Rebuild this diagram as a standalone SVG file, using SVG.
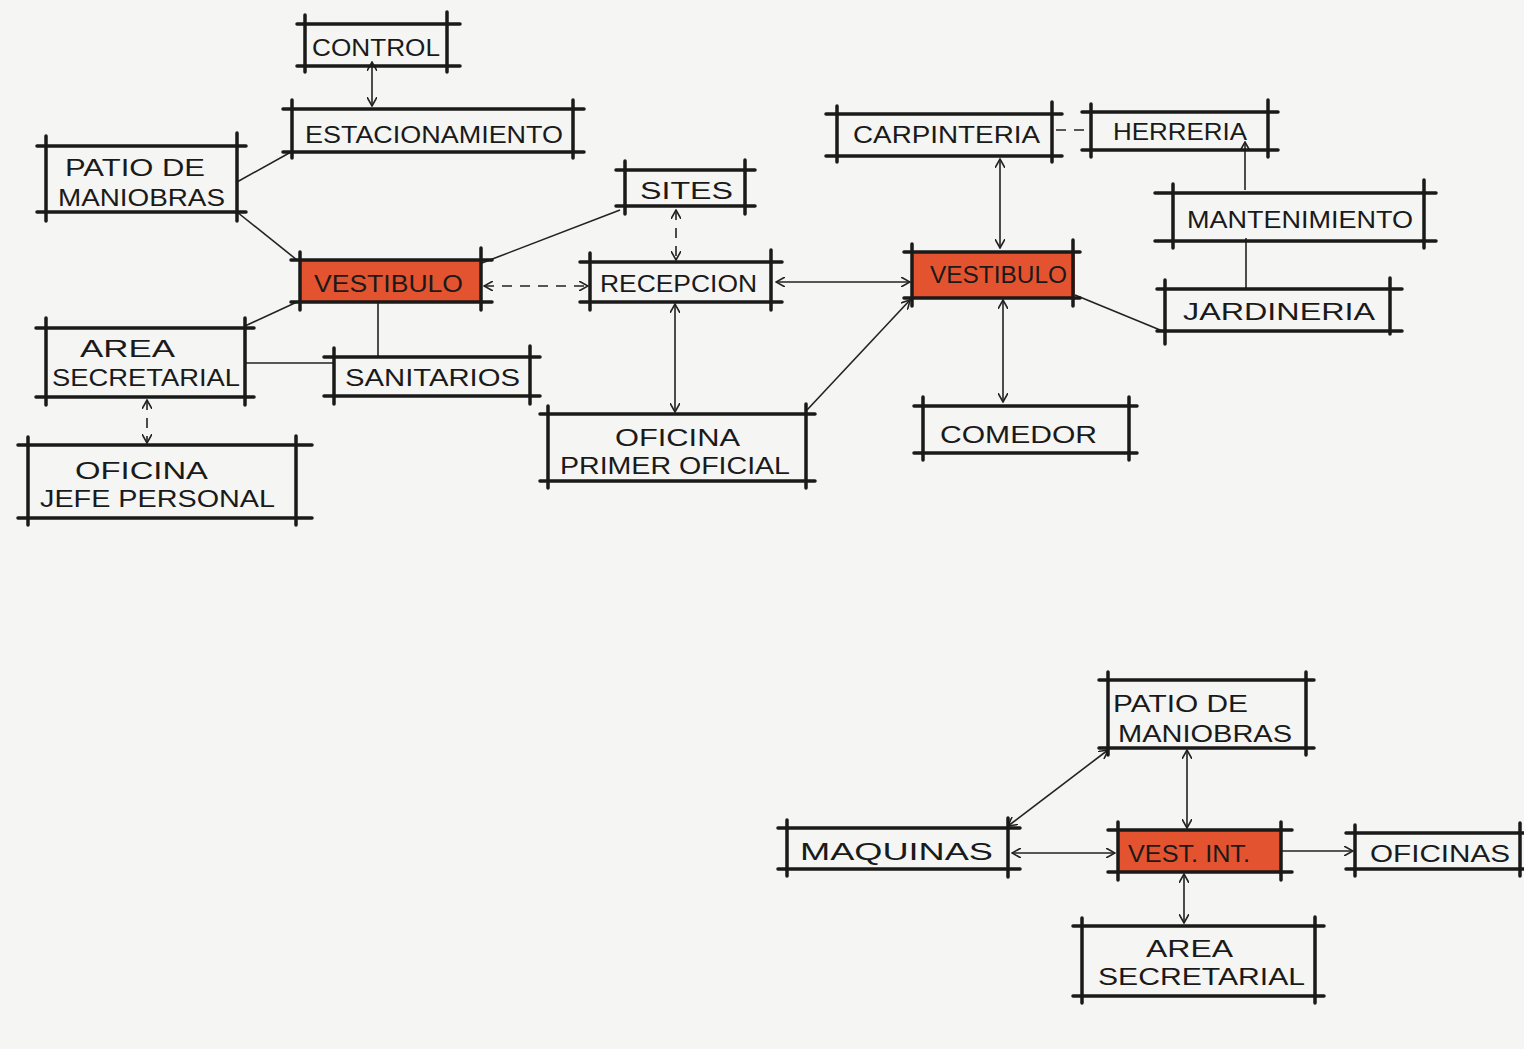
<svg xmlns="http://www.w3.org/2000/svg" width="1524" height="1049" viewBox="0 0 1524 1049">
<style>
.bx{fill:none;stroke:#1a1a1a;stroke-width:3.5;stroke-linecap:round}
.red{fill:#e4532f;stroke:none}
.t{font-family:"Liberation Sans",Arial,sans-serif;font-size:24px;fill:#1a1a1a}
.c{fill:none;stroke:#222;stroke-width:1.6}
.d{stroke-dasharray:10 8}
</style>
<defs>
<marker id="a" viewBox="0 0 10 10" refX="9" refY="5" markerWidth="10" markerHeight="10" markerUnits="userSpaceOnUse" orient="auto-start-reverse">
<path d="M0,0 L9,5 L0,10" fill="none" stroke="#222" stroke-width="1.6"/>
</marker>
</defs>
<rect width="1524" height="1049" fill="#f5f5f3"/>

<g id="connectors">
<path class="c" d="M372,62 V106" marker-start="url(#a)" marker-end="url(#a)"/>
<path class="c" d="M291,152 L237,182"/>
<path class="c" d="M237,212 L297,260"/>
<path class="c" d="M297,302 L245,326"/>
<path class="c" d="M378,302 V356"/>
<path class="c" d="M245,363 H333"/>
<path class="c d" d="M147,400 V443" marker-start="url(#a)" marker-end="url(#a)"/>
<path class="c" d="M620,210 L482,263"/>
<path class="c d" d="M484,286 H588" marker-start="url(#a)" marker-end="url(#a)"/>
<path class="c d" d="M676,210 V260" marker-start="url(#a)" marker-end="url(#a)"/>
<path class="c" d="M675,304 V412" marker-start="url(#a)" marker-end="url(#a)"/>
<path class="c" d="M776,282 H910" marker-start="url(#a)" marker-end="url(#a)"/>
<path class="c" d="M807,410 L910,300" marker-end="url(#a)"/>
<path class="c" d="M1000,159 V248" marker-start="url(#a)" marker-end="url(#a)"/>
<path class="c d" d="M1056,130 H1090"/>
<path class="c" d="M1245,190 V142" marker-end="url(#a)"/>
<path class="c" d="M1246,238 V288"/>
<path class="c" d="M1075,295 L1165,332"/>
<path class="c" d="M1003,300 V402" marker-start="url(#a)" marker-end="url(#a)"/>
<path class="c" d="M1008,826 L1108,750" marker-start="url(#a)" marker-end="url(#a)"/>
<path class="c" d="M1187,750 V828" marker-start="url(#a)" marker-end="url(#a)"/>
<path class="c" d="M1012,853 H1115" marker-start="url(#a)" marker-end="url(#a)"/>
<path class="c" d="M1281,851 H1353" marker-end="url(#a)"/>
<path class="c" d="M1184,874 V923" marker-start="url(#a)" marker-end="url(#a)"/>
</g>

<g id="control">
<path class="bx" d="M297,24 H460 M297,66 H460 M305,15 V72 M447,12 V72"/>
<text class="t" x="312" y="56" textLength="128" lengthAdjust="spacingAndGlyphs" font-size="28">CONTROL</text>
</g>
<g id="estacionamiento">
<path class="bx" d="M283,109 H584 M283,152 H584 M292,100 V158 M573,100 V158"/>
<text class="t" x="305" y="143" textLength="258" lengthAdjust="spacingAndGlyphs">ESTACIONAMIENTO</text>
</g>
<g id="patio1">
<path class="bx" d="M37,146 H246 M37,212 H246 M46,136 V221 M237,133 V221"/>
<text class="t" x="65" y="176" textLength="140" lengthAdjust="spacingAndGlyphs">PATIO DE</text>
<text class="t" x="58" y="206" textLength="167" lengthAdjust="spacingAndGlyphs">MANIOBRAS</text>
</g>
<g id="vestibulo1">
<rect class="red" x="300" y="260" width="181" height="41"/>
<path class="bx" d="M291,260 H492 M291,302 H492 M300,252 V310 M481,248 V310"/>
<text class="t" x="314" y="292" textLength="149" lengthAdjust="spacingAndGlyphs">VESTIBULO</text>
</g>
<g id="sites">
<path class="bx" d="M616,170 H755 M616,206 H755 M625,161 V214 M745,160 V214"/>
<text class="t" x="640" y="199" textLength="93" lengthAdjust="spacingAndGlyphs">SITES</text>
</g>
<g id="recepcion">
<path class="bx" d="M580,262 H782 M580,302 H782 M590,253 V310 M771,250 V310"/>
<text class="t" x="600" y="292" textLength="157" lengthAdjust="spacingAndGlyphs">RECEPCION</text>
</g>
<g id="areasec1">
<path class="bx" d="M36,328 H254 M36,397 H254 M46,318 V405 M245,318 V405"/>
<text class="t" x="80" y="357" textLength="95" lengthAdjust="spacingAndGlyphs">AREA</text>
<text class="t" x="52" y="386" textLength="188" lengthAdjust="spacingAndGlyphs">SECRETARIAL</text>
</g>
<g id="sanitarios">
<path class="bx" d="M324,357 H540 M324,396 H540 M334,348 V404 M530,346 V404"/>
<text class="t" x="345" y="386" textLength="175" lengthAdjust="spacingAndGlyphs">SANITARIOS</text>
</g>
<g id="jefe">
<path class="bx" d="M18,445 H312 M18,518 H312 M28,437 V525 M296,436 V525"/>
<text class="t" x="75" y="479" textLength="133" lengthAdjust="spacingAndGlyphs">OFICINA</text>
<text class="t" x="40" y="507" textLength="235" lengthAdjust="spacingAndGlyphs">JEFE PERSONAL</text>
</g>
<g id="primeroficial">
<path class="bx" d="M540,414 H815 M540,481 H815 M548,406 V488 M806,404 V488"/>
<text class="t" x="615" y="446" textLength="125" lengthAdjust="spacingAndGlyphs">OFICINA</text>
<text class="t" x="560" y="474" textLength="230" lengthAdjust="spacingAndGlyphs">PRIMER OFICIAL</text>
</g>
<g id="carpinteria">
<path class="bx" d="M826,114 H1062 M826,156 H1062 M837,106 V162 M1052,102 V162"/>
<text class="t" x="853" y="143" textLength="187" lengthAdjust="spacingAndGlyphs">CARPINTERIA</text>
</g>
<g id="herreria">
<path class="bx" d="M1082,112 H1278 M1082,150 H1278 M1091,104 V157 M1268,100 V157"/>
<text class="t" x="1113" y="140" textLength="134" lengthAdjust="spacingAndGlyphs">HERRERIA</text>
</g>
<g id="mantenimiento">
<path class="bx" d="M1155,193 H1436 M1155,241 H1436 M1173,184 V248 M1424,180 V248"/>
<text class="t" x="1187" y="228" textLength="226" lengthAdjust="spacingAndGlyphs">MANTENIMIENTO</text>
</g>
<g id="vestibulo2">
<rect class="red" x="912" y="252" width="163" height="45"/>
<path class="bx" d="M904,252 H1080 M904,298 H1080 M912,244 V306 M1073,240 V306"/>
<text class="t" x="930" y="283" textLength="137" lengthAdjust="spacingAndGlyphs">VESTIBULO</text>
</g>
<g id="jardineria">
<path class="bx" d="M1157,289 H1402 M1157,331 H1402 M1165,280 V344 M1390,278 V334"/>
<text class="t" x="1183" y="320" textLength="192" lengthAdjust="spacingAndGlyphs">JARDINERIA</text>
</g>
<g id="comedor">
<path class="bx" d="M914,406 H1137 M914,453 H1137 M923,397 V460 M1129,397 V460"/>
<text class="t" x="940" y="443" textLength="157" lengthAdjust="spacingAndGlyphs">COMEDOR</text>
</g>
<g id="patio2">
<path class="bx" d="M1099,680 H1314 M1099,748 H1314 M1108,672 V755 M1306,672 V755"/>
<text class="t" x="1113" y="712" textLength="135" lengthAdjust="spacingAndGlyphs">PATIO DE</text>
<text class="t" x="1118" y="742" textLength="174" lengthAdjust="spacingAndGlyphs">MANIOBRAS</text>
</g>
<g id="maquinas">
<path class="bx" d="M778,828 H1020 M778,869 H1020 M787,820 V876 M1008,818 V877"/>
<text class="t" x="800" y="860" textLength="193" lengthAdjust="spacingAndGlyphs">MAQUINAS</text>
</g>
<g id="vestint">
<rect class="red" x="1118" y="830" width="163" height="41"/>
<path class="bx" d="M1108,830 H1292 M1108,872 H1292 M1118,822 V880 M1281,822 V880"/>
<text class="t" x="1128" y="862" textLength="122" lengthAdjust="spacingAndGlyphs">VEST. INT.</text>
</g>
<g id="oficinas">
<path class="bx" d="M1346,833 H1524 M1346,869 H1524 M1355,825 V876 M1520,823 V876"/>
<text class="t" x="1370" y="862" textLength="140" lengthAdjust="spacingAndGlyphs">OFICINAS</text>
</g>
<g id="areasec2">
<path class="bx" d="M1073,926 H1324 M1073,996 H1324 M1082,918 V1003 M1315,917 V1003"/>
<text class="t" x="1146" y="957" textLength="87" lengthAdjust="spacingAndGlyphs">AREA</text>
<text class="t" x="1098" y="985" textLength="207" lengthAdjust="spacingAndGlyphs">SECRETARIAL</text>
</g>
</svg>
